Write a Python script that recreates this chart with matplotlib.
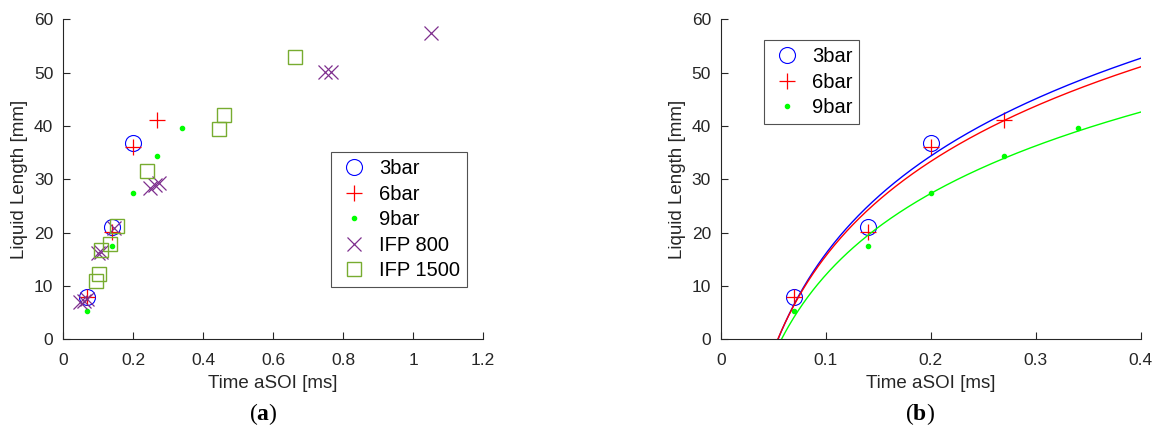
import numpy as np
import matplotlib
matplotlib.use("Agg")
import matplotlib.pyplot as plt

plt.rcParams["font.family"] = ["Liberation Sans", "DejaVu Sans"]
plt.rcParams["mathtext.fontset"] = "custom"
plt.rcParams["mathtext.rm"] = "Liberation Serif"
plt.rcParams["mathtext.bf"] = "Liberation Serif:bold"

# measured liquid length [mm] vs time aSOI [ms]
t_3bar = [0.07, 0.14, 0.20]
l_3bar = [7.9, 21.1, 36.9]
t_6bar = [0.07, 0.14, 0.20, 0.27]
l_6bar = [7.9, 20.1, 36.0, 41.1]
t_9bar = [0.07, 0.14, 0.20, 0.27, 0.34]
l_9bar = [5.3, 17.4, 27.4, 34.3, 39.6]

# IFP reference data
t_ifp800 = [0.05, 0.06, 0.07, 0.10, 0.11, 0.145, 0.25, 0.264, 0.274, 0.749, 0.767, 1.05]
l_ifp800 = [7.0, 7.2, 7.5, 16.1, 16.4, 20.8, 28.3, 28.9, 29.4, 50.1, 50.1, 57.5]
t_ifp1500 = [0.093, 0.102, 0.108, 0.135, 0.154, 0.241, 0.446, 0.459, 0.664]
l_ifp1500 = [10.9, 12.2, 16.8, 17.8, 21.3, 31.6, 39.4, 42.1, 52.9]

c_blue = (0, 0, 1)
c_red = (1, 0, 0)
c_green = (0, 1, 0)
c_purple = (0.494, 0.184, 0.556)
c_olive = (0.466, 0.674, 0.188)
axis_col = "#262626"

fig = plt.figure(figsize=(11.58, 4.3), dpi=100)
ax1 = fig.add_axes([0.0544, 0.211, 0.3627, 0.744])
ax2 = fig.add_axes([0.6224, 0.211, 0.3627, 0.744])


def style_axes(ax):
    for s in ["top", "right"]:
        ax.spines[s].set_visible(False)
    for s in ["left", "bottom"]:
        ax.spines[s].set_color(axis_col)
        ax.spines[s].set_linewidth(0.8)
    ax.tick_params(direction="in", length=5, width=0.8, colors=axis_col,
                   labelsize=12.5, labelcolor=axis_col, pad=7)
    ax.tick_params(axis="x", pad=10)
    ax.set_ylim(0, 60)
    ax.set_yticks(range(0, 61, 10))
    ax.set_xlabel("Time aSOI [ms]", fontsize=13.5, color=axis_col, labelpad=5)
    ax.set_ylabel("Liquid Length [mm]", fontsize=13.5, color=axis_col, labelpad=4)


def add_legend(ax, anchor):
    leg = ax.legend(loc="upper left", bbox_to_anchor=anchor, fontsize=14.5,
                    frameon=True, fancybox=False, edgecolor=axis_col, borderpad=0.35,
                    handletextpad=0.45, labelspacing=0.32, borderaxespad=0,
                    handlelength=1.6)
    leg.get_frame().set_linewidth(0.8)


# (a) all data
ax1.plot(t_3bar, l_3bar, "o", mfc="none", mec=c_blue, ms=11.5, mew=0.8, label="3bar")
ax1.plot(t_6bar, l_6bar, "+", color=c_red, ms=11.5, mew=0.9, label="6bar")
ax1.plot(t_9bar, l_9bar, ".", color=c_green, ms=6, label="9bar")
ax1.plot(t_ifp800, l_ifp800, "x", color=c_purple, ms=9.5, mew=0.9, label="IFP 800")
ax1.plot(t_ifp1500, l_ifp1500, "s", mfc="none", mec=c_olive, ms=9.5, mew=1.0, label="IFP 1500")
style_axes(ax1)
ax1.set_xlim(0, 1.2)
ax1.set_xticks([0, 0.2, 0.4, 0.6, 0.8, 1.0, 1.2])
ax1.set_xticklabels(["0", "0.2", "0.4", "0.6", "0.8", "1", "1.2"])
add_legend(ax1, (0.637, 0.584))

# (b) logarithmic fits L = a*ln(t) + b
ax2.plot(t_3bar, l_3bar, "o", mfc="none", mec=c_blue, ms=11.5, mew=0.8, label="3bar")
ax2.plot(t_6bar, l_6bar, "+", color=c_red, ms=11.5, mew=0.9, label="6bar")
ax2.plot(t_9bar, l_9bar, ".", color=c_green, ms=6, label="9bar")
for t, l, c in [(t_3bar, l_3bar, c_blue), (t_6bar, l_6bar, c_red), (t_9bar, l_9bar, c_green)]:
    a, b = np.polyfit(np.log(t), l, 1)
    t0 = np.exp(-b / a)
    tt = np.linspace(t0, 0.4, 300)
    ax2.plot(tt, a * np.log(tt) + b, "-", color=c, lw=1.0)
style_axes(ax2)
ax2.set_xlim(0, 0.4)
ax2.set_xticks([0, 0.1, 0.2, 0.3, 0.4])
ax2.set_xticklabels(["0", "0.1", "0.2", "0.3", "0.4"])
add_legend(ax2, (0.102, 0.935))

fig.text(263 / 1158, 1 - 414 / 430, r"$\mathrm{(}\mathbf{a}\mathrm{)}$", ha="center",
         va="center", fontsize=17)
fig.text(920 / 1158, 1 - 414 / 430, r"$\mathrm{(}\mathbf{b}\mathrm{)}$", ha="center",
         va="center", fontsize=17)

fig.savefig("out.png", dpi=100)
